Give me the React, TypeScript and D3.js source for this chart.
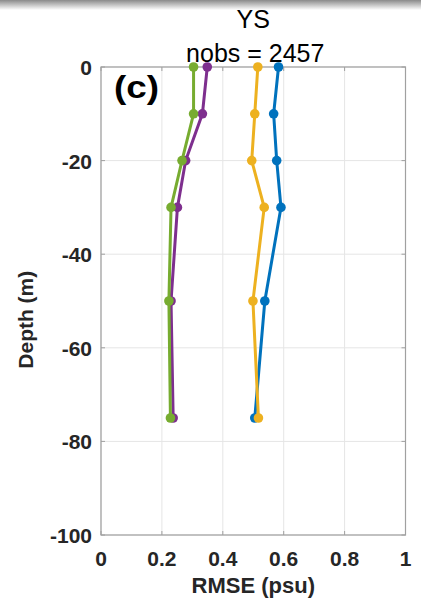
import { useEffect, useRef } from "react"
import * as d3 from "d3"

// depth levels (m)
const depths = [0, -10, -20, -30, -50, -75]

// RMSE (psu) per series
const blueValues = [0.583, 0.567, 0.577, 0.591, 0.538, 0.505]
const yellowValues = [0.515, 0.505, 0.495, 0.536, 0.499, 0.517]
const purpleValues = [0.349, 0.333, 0.278, 0.251, 0.23, 0.237]
const greenValues = [0.304, 0.304, 0.266, 0.23, 0.223, 0.228]

const xTicks = [0, 0.2, 0.4, 0.6, 0.8, 1]
const yTicks = [0, -20, -40, -60, -80, -100]

const titleText = "YS"
const subtitleText = "nobs = 2457"
const panelLabel = "(c)"

export default function App() {
  const svgRef = useRef<SVGSVGElement>(null)

  useEffect(() => {
    if (!svgRef.current) return
    const root = d3.select(svgRef.current)
    root.selectAll("*").remove()

    const W = 421
    const H = 600
    const margin = { top: 67, right: 15.5, bottom: 65, left: 101 }
    const width = W - margin.left - margin.right
    const height = H - margin.top - margin.bottom
    const font = "'Liberation Sans', Arial, sans-serif"

    // top shadow strip
    const defs = root.append("defs")
    const grad = defs
      .append("linearGradient")
      .attr("id", "topShade")
      .attr("x1", 0)
      .attr("y1", 0)
      .attr("x2", 0)
      .attr("y2", 1)
    grad.append("stop").attr("offset", "0%").attr("stop-color", "#8a8a8a")
    grad.append("stop").attr("offset", "100%").attr("stop-color", "#ffffff")
    root.append("rect").attr("x", 0).attr("y", 0).attr("width", W).attr("height", 10).attr("fill", "url(#topShade)")

    const svg = root.append("g").attr("transform", `translate(${margin.left},${margin.top})`)

    const x = d3.scaleLinear().domain([0, 1]).range([0, width])
    const y = d3.scaleLinear().domain([0, -100]).range([0, height])

    // grid
    svg
      .selectAll(".gx")
      .data(xTicks)
      .enter()
      .append("line")
      .attr("x1", (d) => x(d))
      .attr("x2", (d) => x(d))
      .attr("y1", 0)
      .attr("y2", height)
      .attr("stroke", "#e5e5e5")
      .attr("stroke-width", 1)
    svg
      .selectAll(".gy")
      .data(yTicks)
      .enter()
      .append("line")
      .attr("x1", 0)
      .attr("x2", width)
      .attr("y1", (d) => y(d))
      .attr("y2", (d) => y(d))
      .attr("stroke", "#e5e5e5")
      .attr("stroke-width", 1)

    // axes box with inward ticks
    const axisColor = "#a0a0a0"
    const tickLen = 4
    svg
      .append("rect")
      .attr("x", 0)
      .attr("y", 0)
      .attr("width", width)
      .attr("height", height)
      .attr("fill", "none")
      .attr("stroke", axisColor)
      .attr("stroke-width", 1.2)

    xTicks.forEach((t) => {
      svg.append("line").attr("x1", x(t)).attr("x2", x(t)).attr("y1", height).attr("y2", height - tickLen).attr("stroke", axisColor)
      svg.append("line").attr("x1", x(t)).attr("x2", x(t)).attr("y1", 0).attr("y2", tickLen).attr("stroke", axisColor)
    })
    yTicks.forEach((t) => {
      svg.append("line").attr("x1", 0).attr("x2", tickLen).attr("y1", y(t)).attr("y2", y(t)).attr("stroke", axisColor)
      svg.append("line").attr("x1", width).attr("x2", width - tickLen).attr("y1", y(t)).attr("y2", y(t)).attr("stroke", axisColor)
    })

    // tick labels
    svg
      .selectAll(".xl")
      .data(xTicks)
      .enter()
      .append("text")
      .attr("x", (d) => x(d))
      .attr("y", height + 31)
      .attr("text-anchor", "middle")
      .style("font-family", font)
      .style("font-size", "21px")
      .style("font-weight", "bold")
      .style("fill", "#262626")
      .text((d) => d3.format("")(d))

    svg
      .selectAll(".yl")
      .data(yTicks)
      .enter()
      .append("text")
      .attr("x", -9)
      .attr("y", (d) => y(d) + 8)
      .attr("text-anchor", "end")
      .style("font-family", font)
      .style("font-size", "21px")
      .style("font-weight", "bold")
      .style("fill", "#262626")
      .text((d) => String(d))

    // axis labels
    svg
      .append("text")
      .attr("x", width / 2)
      .attr("y", height + 58)
      .attr("text-anchor", "middle")
      .style("font-family", font)
      .style("font-size", "22px")
      .style("font-weight", "bold")
      .style("fill", "#262626")
      .text("RMSE (psu)")

    svg
      .append("text")
      .attr("transform", "rotate(-90)")
      .attr("x", -(y(-54)))
      .attr("y", -68)
      .attr("text-anchor", "middle")
      .style("font-family", font)
      .style("font-size", "21px")
      .style("font-weight", "bold")
      .style("fill", "#262626")
      .text("Depth (m)")

    // titles
    svg
      .append("text")
      .attr("x", width / 2)
      .attr("y", -39)
      .attr("text-anchor", "middle")
      .style("font-family", font)
      .style("font-size", "25px")
      .style("fill", "#000")
      .text(titleText)
    svg
      .append("text")
      .attr("x", width / 2 + 2)
      .attr("y", -5)
      .attr("text-anchor", "middle")
      .style("font-family", font)
      .style("font-size", "25px")
      .style("fill", "#000")
      .text(subtitleText)

    svg
      .append("text")
      .attr("x", 13)
      .attr("y", 31)
      .attr("textLength", 45)
      .attr("lengthAdjust", "spacingAndGlyphs")
      .style("font-family", font)
      .style("font-size", "31px")
      .style("font-weight", "bold")
      .style("fill", "#000")
      .text(panelLabel)

    // series
    const series = [
      { values: blueValues, color: "#0072BD" },
      { values: yellowValues, color: "#EDB120" },
      { values: purpleValues, color: "#7E2F8E" },
      { values: greenValues, color: "#77AC30" },
    ]

    const line = d3
      .line<number>()
      .x((d) => x(d))
      .y((_, i) => y(depths[i]))

    series.forEach((s) => {
      svg
        .append("path")
        .datum(s.values)
        .attr("fill", "none")
        .attr("stroke", s.color)
        .attr("stroke-width", 3)
        .attr("d", line)
      svg
        .selectAll(null)
        .data(s.values)
        .enter()
        .append("circle")
        .attr("cx", (d) => x(d))
        .attr("cy", (_, i) => y(depths[i]))
        .attr("r", 4.8)
        .attr("fill", s.color)
    })
  }, [])

  return <svg ref={svgRef} width={421} height={600} style={{ position: "absolute", left: 0, top: 0 }}></svg>
}
